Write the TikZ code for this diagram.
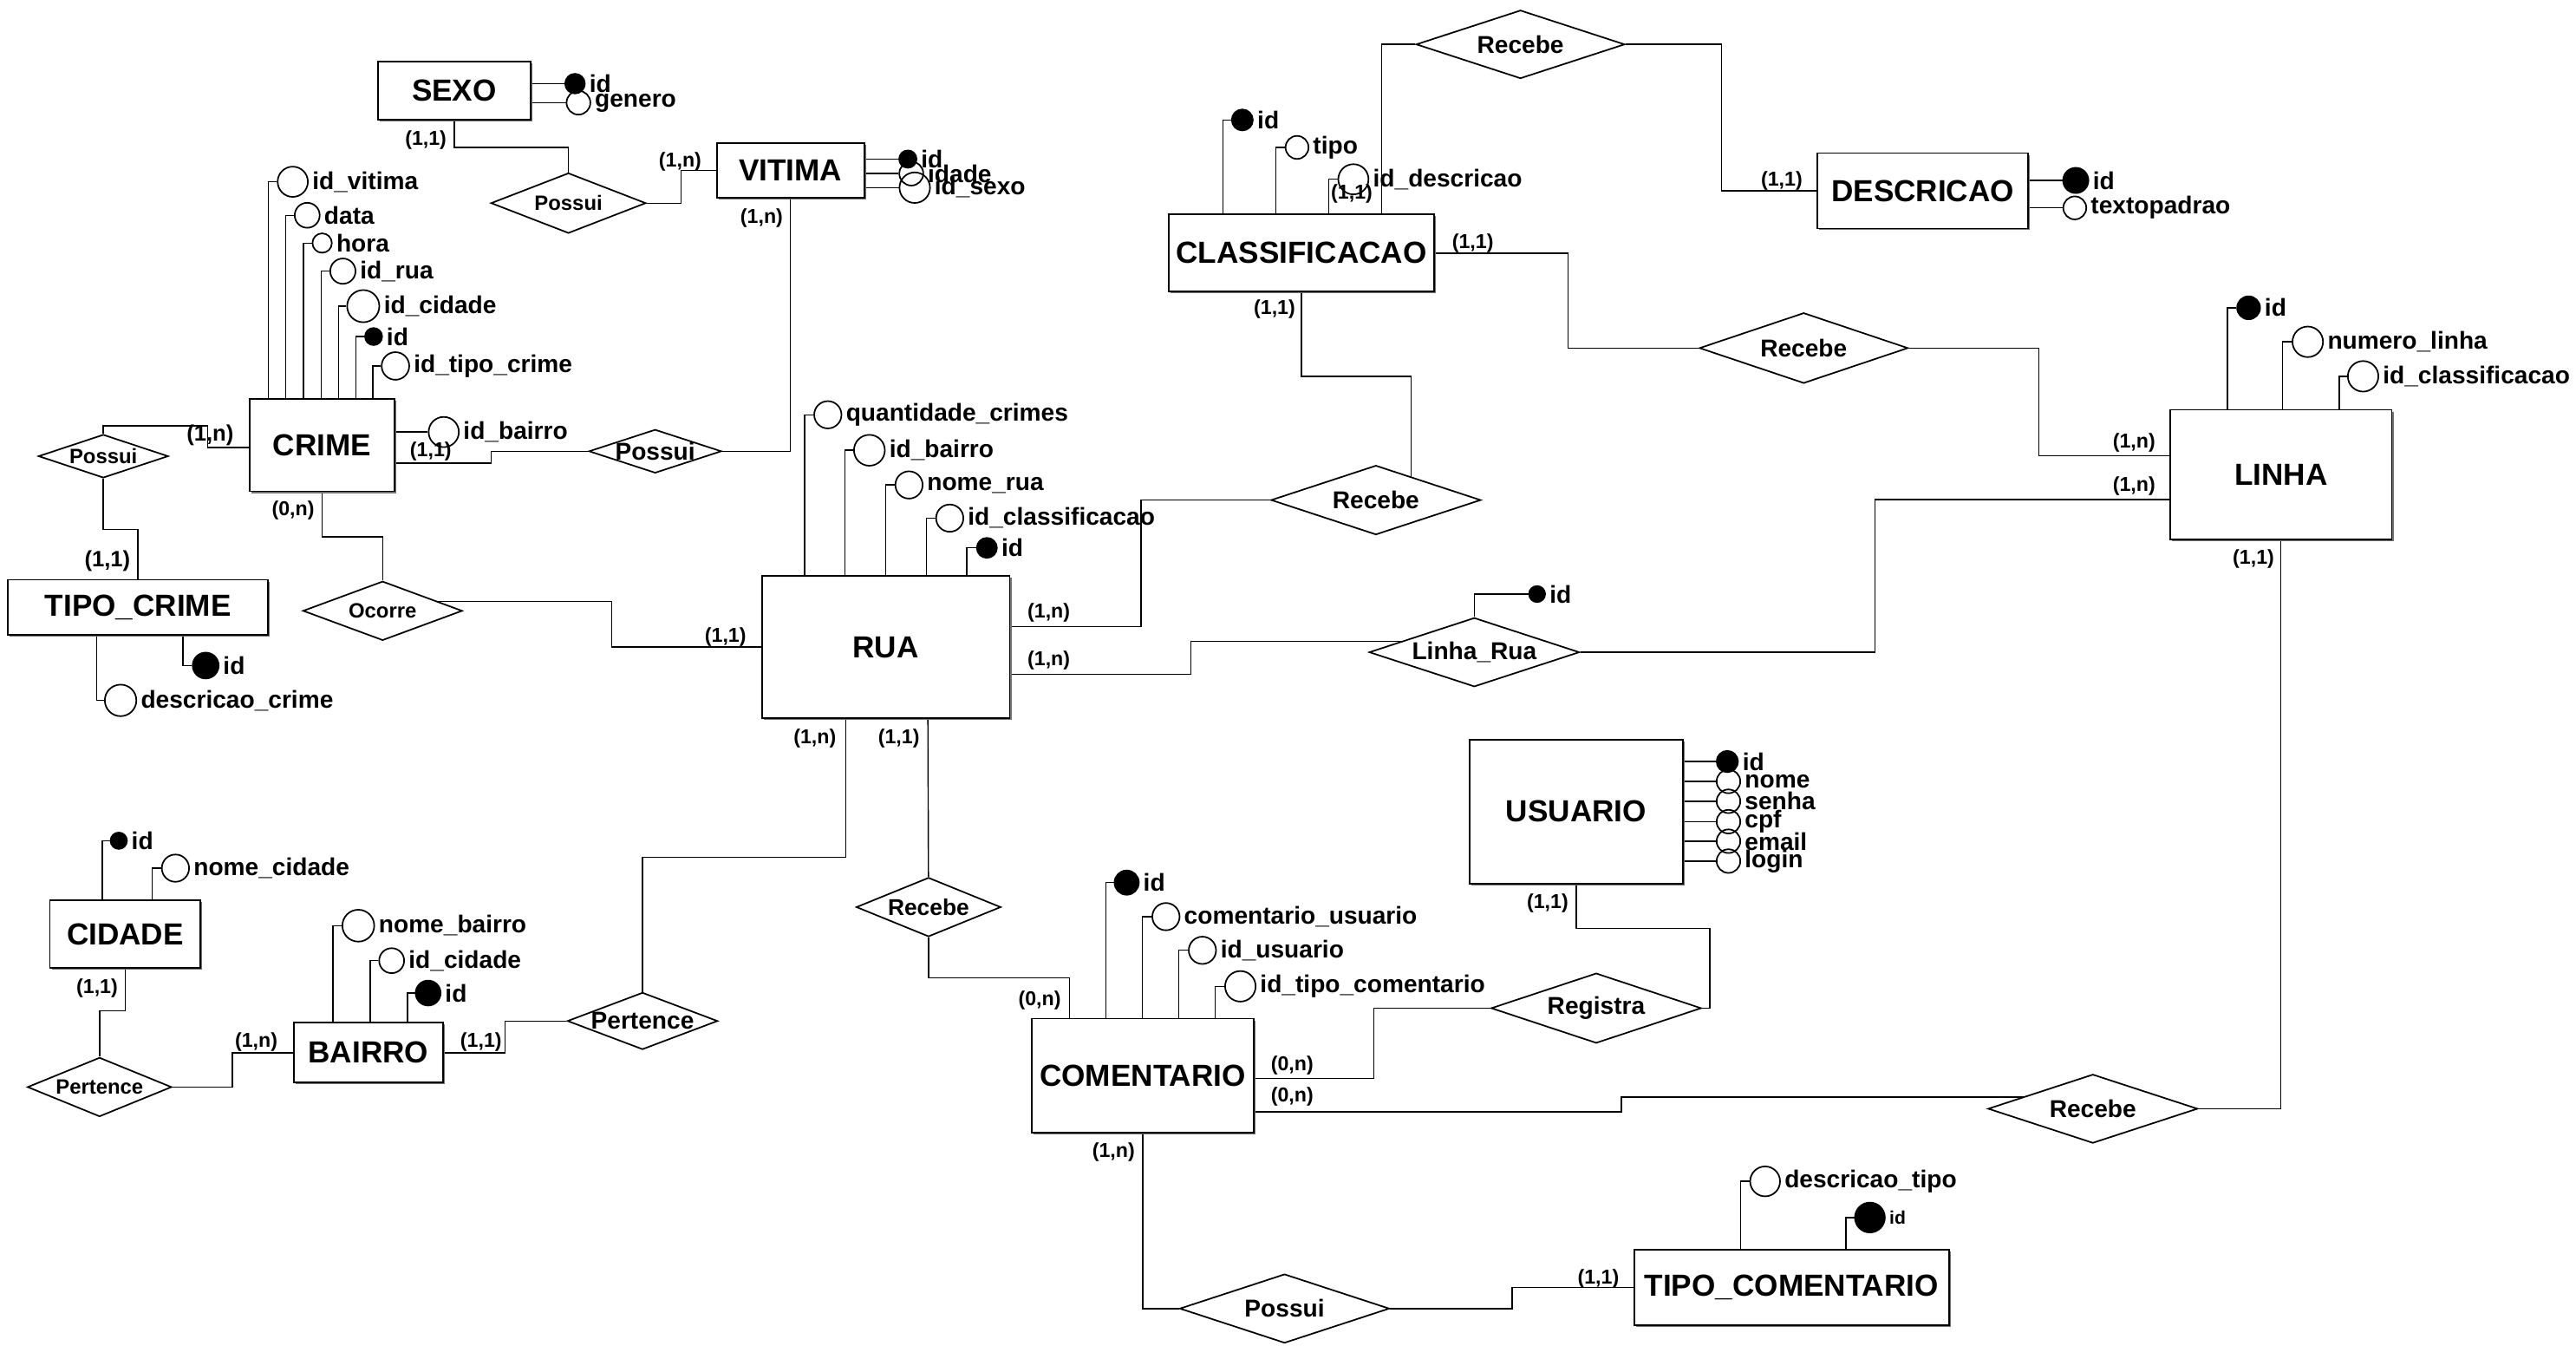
\documentclass[tikz,border=0pt]{standalone}
\usepackage{fontspec}
\setmainfont{Liberation Sans}
\usetikzlibrary{shapes.geometric, shadows, calc}
\pgfdeclarelayer{fundo}
\pgfsetlayers{fundo,main}

\begin{document}
\begin{tikzpicture}[
    x=0.018948cm, y=-0.018948cm,
    line width=0.5pt,
    ent/.style 2 args={rectangle, draw, fill=white, inner sep=0pt,
        minimum width=#1*0.18948mm, minimum height=#2*0.18948mm,
        font=\fontsize{10}{12}\selectfont\bfseries,
        drop shadow={shadow xshift=0.6pt, shadow yshift=-0.6pt, fill=black!55, opacity=1}},
    rel/.style n args={4}{diamond, draw, fill=white, inner sep=0pt,
        minimum width=#1*0.18948mm, minimum height=#2*0.18948mm,
        label={[font=\fontsize{#3}{#3}\selectfont\bfseries, inner sep=0pt]center:#4}},
    attr/.style 2 args={circle, draw, inner sep=0pt,
        minimum size=#1*0.18948mm, label={[atxt]east:#2}},
    key/.style 2 args={attr={#1}{#2}, fill=black},
    atxt/.style={font=\fontsize{8}{9}\selectfont\bfseries, inner sep=1pt},
    card/.style={font=\fontsize{6.6}{8}\selectfont\bfseries, inner sep=0pt},
    cardb/.style={font=\fontsize{7.3}{8}\selectfont\bfseries, inner sep=0pt}
]
    \useasboundingbox (0,0) rectangle (1568,819);

    % --- Entidades ---
    \node[ent={93}{35.2}]    (sexo)    at (276.5,55.2)  {SEXO};
    \node[ent={89.7}{33.4}]  (vitima)  at (481.2,103.8) {VITIMA};
    \node[ent={88}{56.4}]    (crime)   at (196,270.8)   {CRIME};
    \node[ent={158.5}{33.7}] (tipoc)   at (84,369.6)    {TIPO\_CRIME};
    \node[ent={150.9}{86.4}] (rua)     at (539.2,393.8) {RUA};
    \node[ent={91.8}{41}]    (cidade)  at (76.2,568.5)  {CIDADE};
    \node[ent={90.9}{36.4}]  (bairro)  at (224.2,640.6) {BAIRRO};
    \node[ent={161.8}{47}]   (class)   at (792.2,154)   {CLASSIFICACAO};
    \node[ent={128.4}{45.8}] (desc)    at (1170.4,116.1) {DESCRICAO};
    \node[ent={134.9}{78.9}] (linha)   at (1388.4,288.8) {LINHA};
    \node[ent={129.6}{87.8}] (usuario) at (959.4,493.9) {USUARIO};
    \node[ent={135.1}{69.2}] (coment)  at (695.6,654.5) {COMENTARIO};
    \node[ent={191.5}{45.9}] (tcom)    at (1090.5,783.6) {TIPO\_COMENTARIO};

    % --- Relacionamentos ---
    \node[rel={94.3}{36.7}{6.8}{Possui}]   (psexo)  at (346,123.6)   {};
    \node[rel={80.7}{26.5}{8}{Possui}]     (pvit)   at (398.8,274.6) {};
    \node[rel={79}{26.4}{6.8}{Possui}]     (ptipo)  at (62.9,277.6)  {};
    \node[rel={97}{36}{6.8}{Ocorre}]       (ocorre) at (232.9,371.7) {};
    \node[rel={127.7}{42.2}{8}{Recebe}]    (rrua)   at (837.5,304.3) {};
    \node[rel={127}{41.6}{8}{Recebe}]      (rdesc)  at (925.5,27)    {};
    \node[rel={127}{42.9}{8}{Recebe}]      (rlin)   at (1097.9,211.8) {};
    \node[rel={128}{42}{8}{Linha\_Rua}]    (lrua)   at (897.4,396.9) {};
    \node[rel={91.5}{34.7}{8}{Pertence}]   (prua)   at (391.1,621.3) {};
    \node[rel={87.8}{36}{6.8}{Pertence}]   (pcid)   at (60.6,661.5)  {};
    \node[rel={88}{36}{7.5}{Recebe}]       (rcom)   at (565.2,552)   {};
    \node[rel={128}{42.6}{8}{Registra}]    (reg)    at (971.6,613.5) {};
    \node[rel={127.6}{41.9}{8}{Recebe}]    (rcoml)  at (1273.9,674.7) {};
    \node[rel={127.7}{42}{8}{Possui}]      (pcom)   at (781.9,796.3) {};

    % --- Atributos ---
    % SEXO
    \node[key={12}{id}]       (sId)  at (350,50.9)  {};
    \node[attr={14.5}{genero}] (sGen) at (352.1,62.5) {};
    % VITIMA
    \node[attr={18.6}{id\_sexo}] (vSex) at (556.8,114.2) {};
    \node[attr={14.6}{idade}]    (vIda) at (554.7,105.6) {};
    \node[key={10.6}{id}]        (vId)  at (552.6,96.8)  {};
    % CRIME
    \node[attr={18.4}{id\_vitima}]      (cVit) at (178.2,110.6) {};
    \node[attr={15.2}{data}]            (cDat) at (187,131)     {};
    \node[attr={11.8}{hora}]            (cHor) at (196.1,147.9) {};
    \node[attr={15.4}{id\_rua}]         (cRua) at (208.7,165)   {};
    \node[attr={19.6}{id\_cidade}]      (cCid) at (221.1,186.3) {};
    \node[key={10.4}{id}]               (cId)  at (227.4,204.8) {};
    \node[attr={16.8}{id\_tipo\_crime}] (cTip) at (240.7,222.7) {};
    \node[attr={18.4}{id\_bairro}]      (cBai) at (270.1,262.9) {};
    % TIPO_CRIME
    \node[key={15.8}{id}]                (tcId)  at (125.2,405)  {};
    \node[attr={19.2}{descricao\_crime}] (tcDes) at (73.4,426.2) {};
    % RUA
    \node[attr={16.6}{quantidade\_crimes}] (rQtd) at (503.9,252.4) {};
    \node[attr={18.8}{id\_bairro}]         (rBai) at (529.2,274)   {};
    \node[attr={16.6}{nome\_rua}]          (rNom) at (553.3,295.1) {};
    \node[attr={16.6}{id\_classificacao}]  (rCla) at (578.1,315.3) {};
    \node[key={12.2}{id}]                  (rId)  at (600.7,333.4) {};
    % CIDADE
    \node[key={10}{id}]              (dId)  at (72.3,511.6)  {};
    \node[attr={16.6}{nome\_cidade}] (dNom) at (106.8,528.3) {};
    % BAIRRO
    \node[attr={19.4}{nome\_bairro}] (bNom) at (218.1,563.3) {};
    \node[attr={15.2}{id\_cidade}]   (bCid) at (238.4,584.6) {};
    \node[key={15.2}{id}]            (bId)  at (260.6,604.3) {};
    % CLASSIFICACAO
    \node[key={12.8}{id}]             (kId)  at (756.2,73)    {};
    \node[attr={14}{tipo}]            (kTip) at (789.5,89.7)  {};
    \node[attr={18.4}{id\_descricao}] (kDes) at (823.8,109.1) {};
    % DESCRICAO
    \node[key={15.4}{id}]          (eId)  at (1263.5,109.8) {};
    \node[attr={14}{textopadrao}]  (eTxt) at (1262.9,126.5) {};
    % LINHA
    \node[key={14}{id}]                   (nId)  at (1368.7,187.3) {};
    \node[attr={18.6}{numero\_linha}]     (nNum) at (1404.7,208)   {};
    \node[attr={18.6}{id\_classificacao}] (nCla) at (1438.4,229)   {};
    % Linha_Rua
    \node[key={9.8}{id}] (lId) at (935.6,361.5) {};
    % USUARIO
    \node[key={13}{id}]      (uId)  at (1051.4,463.4) {};
    \node[attr={14.4}{nome}]  (uNom) at (1052.1,475.5) {};
    \node[attr={14.4}{senha}] (uSen) at (1052.1,487.6) {};
    \node[attr={14.4}{cpf}]   (uCpf) at (1052.1,500)   {};
    \node[attr={14.4}{email}] (uEma) at (1052.1,511.9) {};
    \node[attr={14.4}{login}] (uLog) at (1052.1,524)   {};
    % COMENTARIO
    \node[key={14.8}{id}]                     (mId)  at (685.8,537.1) {};
    \node[attr={16.6}{comentario\_usuario}]   (mCom) at (709.7,557.8) {};
    \node[attr={16.6}{id\_usuario}]           (mUsu) at (731.9,578.3) {};
    \node[attr={18.6}{id\_tipo\_comentario}]  (mTip) at (755,600.2)   {};
    % TIPO_COMENTARIO
    \node[attr={18.2}{descricao\_tipo}] (tDes) at (1074.4,718.9) {};
    \node[key={18.2}{\fontsize{6}{7}\selectfont id}] (tId) at (1138.2,740.9) {};

    % --- Cardinalidades ---
    \node[card]  (k1)  at (259.2,85.2)  {(1,1)};
    \node[card]  (k2)  at (414,98.4)    {(1,n)};
    \node[card]  (k3)  at (463.6,132.5) {(1,n)};
    \node[cardb] (k4)  at (127.9,264.8) {(1,n)};
    \node[cardb] (k5)  at (65.4,341.3)  {(1,1)};
    \node[card]  (k6)  at (262.2,274.5) {(1,1)};
    \node[card]  (k7)  at (178.4,310.8) {(0,n)};
    \node[card]  (k8)  at (441.6,387.8) {(1,1)};
    \node[card]  (k9)  at (638.4,373)   {(1,n)};
    \node[card]  (k10) at (638.4,402)   {(1,n)};
    \node[card]  (k11) at (496,449.5)   {(1,n)};
    \node[card]  (k12) at (547.1,449.5) {(1,1)};
    \node[card]  (k13) at (292.8,634.2) {(1,1)};
    \node[card]  (k14) at (156,634.2)   {(1,n)};
    \node[card]  (k15) at (59.1,601.3)  {(1,1)};
    \node[card]  (k16) at (632.8,609)   {(0,n)};
    \node[card]  (k17) at (786.5,648.2) {(0,n)};
    \node[card]  (k18) at (786.5,667.6) {(0,n)};
    \node[card]  (k19) at (677.8,701.2) {(1,n)};
    \node[card]  (k20) at (942,549.7)   {(1,1)};
    \node[card]  (k21) at (972.9,778.3) {(1,1)};
    \node[card]  (k22) at (822.8,117.9) {(1,1)};
    \node[card]  (k23) at (896.5,147.8) {(1,1)};
    \node[card]  (k24) at (775.8,188.2) {(1,1)};
    \node[card]  (k25) at (1084.5,110)  {(1,1)};
    \node[card]  (k26) at (1299,269.3)  {(1,n)};
    \node[card]  (k27) at (1299,295.9)  {(1,n)};
    \node[card]  (k28) at (1371.7,340.4) {(1,1)};

    % --- Ligacoes (atras dos nos) ---
    \begin{pgfonlayer}{fundo}
    % atributos laterais
    \draw (sexo.east |- sId) -- (sId);
    \draw (sexo.east |- sGen) -- (sGen);
    \draw (vitima.east |- vId) -- (vId);
    \draw (vitima.east |- vIda) -- (vIda);
    \draw (vitima.east |- vSex) -- (vSex);
    \draw (crime.east |- cBai) -- (cBai);
    \draw (desc.east |- eId) -- (eId);
    \draw (desc.east |- eTxt) -- (eTxt);
    \foreach \a in {uId, uNom, uSen, uCpf, uEma, uLog}
        \draw (usuario.east |- \a) -- (\a);

    % atributos por cima / por baixo
    \foreach \dx/\a in {11.9/cVit, 22.4/cDat, 33.1/cHor, 43.9/cRua, 54.7/cCid, 65.1/cId, 75.5/cTip}
        \draw ($(crime.north west)+(\dx,0)$) |- (\a);
    \foreach \dx/\a in {26.4/rQtd, 50.9/rBai, 75.8/rNom, 100.6/rCla, 125.2/rId}
        \draw ($(rua.north west)+(\dx,0)$) |- (\a);
    \foreach \dx/\a in {45.6/mId, 67.8/mCom, 90/mUsu, 112.2/mTip}
        \draw ($(coment.north west)+(\dx,0)$) |- (\a);
    \foreach \dx/\a in {33.7/kId, 65.7/kTip, 97.9/kDes}
        \draw ($(class.north west)+(\dx,0)$) |- (\a);
    \foreach \dx/\a in {35.3/nId, 68.9/nNum, 103.3/nCla}
        \draw ($(linha.north west)+(\dx,0)$) |- (\a);
    \foreach \dx/\a in {24.3/bNom, 47/bCid, 69.7/bId}
        \draw ($(bairro.north west)+(\dx,0)$) |- (\a);
    \foreach \dx/\a in {32.4/dId, 62.7/dNom}
        \draw ($(cidade.north west)+(\dx,0)$) |- (\a);
    \foreach \dx/\a in {65.3/tDes, 129.2/tId}
        \draw ($(tcom.north west)+(\dx,0)$) |- (\a);
    \draw ($(tipoc.south west)+(107,0)$) |- (tcId);
    \draw ($(tipoc.south west)+(54.5,0)$) |- (tcDes);
    \draw (lrua.north) |- (lId);

    % SEXO - VITIMA - CRIME
    \draw (sexo.south) -- ++(0,16.4) -| (psexo);
    \draw (psexo.east) -- ++(21,0) |- (vitima);
    \draw (vitima.south) |- (pvit);
    \draw ($(crime.east)+(0,11.1)$) -- ++(58.6,0) |- (pvit);

    % CRIME - TIPO_CRIME
    \draw ($(crime.west)+(0,1.5)$) -- ++(-25,0) -- ++(0,-13.2) -| (ptipo);
    \draw (ptipo.south) -- ++(0,30.8) -| (tipoc);

    % CRIME - RUA
    \draw (crime.south) -- ++(0,27.3) -| (ocorre);
    \draw ($(ocorre)+(0,-5.8)$) -- ++(139.4,0) |- (rua);

    % RUA - CLASSIFICACAO
    \draw ($(rua.east)+(0,-12.6)$) -- ++(79.4,0) |- (rrua);
    \draw ($(rrua)+(21.5,0)$) -- ++(0,-75.3) -| (class);

    % CLASSIFICACAO - DESCRICAO / LINHA
    \draw ($(class.north west)+(130.1,0)$) |- (rdesc);
    \draw (rdesc) -- ++(122.4,0) |- (desc);
    \draw (class.east) -- ++(80.9,0) |- (rlin);
    \draw (rlin) -- ++(143.2,0) |- ($(linha.west)+(0,-11.5)$);

    % RUA - LINHA
    \draw ($(rua.east)+(0,16.4)$) -- ++(109.7,0) |- ($(lrua)+(0,-6.7)$);
    \draw (lrua) -- ++(243.9,0) |- ($(linha.west)+(0,15.1)$);

    % RUA - BAIRRO - CIDADE
    \draw ($(rua.south west)+(51.6,0)$) -- ++(0,84.2) -| (prua);
    \draw (prua) -- ++(-83.6,0) |- (bairro);
    \draw (bairro) -- ++(-82.7,0) |- (pcid);
    \draw (pcid.north) -- ++(0,-27.8) -| (cidade);

    % RUA - COMENTARIO
    \draw ($(rua.south west)+(101.5,0)$) -- (rcom);
    \draw (rcom.south) -- ++(0,24.7) -| ($(coment.north west)+(23.4,0)$);

    % COMENTARIO - USUARIO / LINHA / TIPO_COMENTARIO
    \draw ($(coment.east)+(0,1.8)$) -- ++(72.6,0) |- (reg);
    \draw (reg) -- ++(69.2,0) -- ++(0,-48.6) -| (usuario);
    \draw ($(coment.east)+(0,22)$) -- ++(223.3,0) |- ($(rcoml)+(0,-7.1)$);
    \draw (rcoml) -| (linha);
    \draw (coment.south) |- (pcom);
    \draw (pcom) -- ++(138.6,0) |- (tcom);
    \end{pgfonlayer}

\end{tikzpicture}
\end{document}
